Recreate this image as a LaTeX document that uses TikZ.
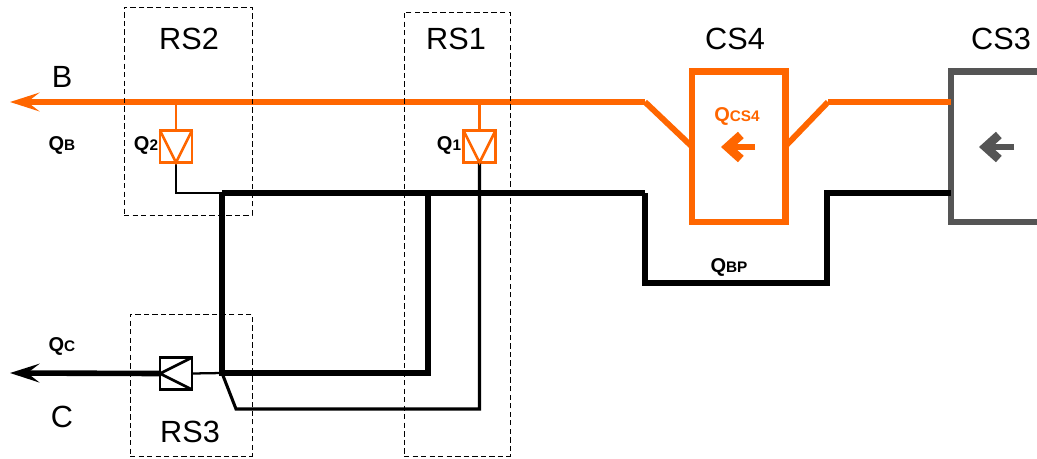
\documentclass[tikz,border=0pt]{standalone}
\usepackage{fontspec}
\setmainfont{Liberation Sans}
\usetikzlibrary{arrows.meta}
\definecolor{flowOrange}{HTML}{FF6600}
\definecolor{csGray}{HTML}{555555}
\newcommand{\flowQ}[2]{{\fontsize{15}{16}\selectfont Q}{\fontsize{11.5}{16}\selectfont #2}}
\tikzset{
    rsbox/.style={draw, dashed, dash pattern=on 4pt off 2.4pt, line width=0.7pt, inner sep=0, outer sep=0},
    csbox/.style={draw, fill=white, line width=5pt, inner sep=0, outer sep=0, minimum width=70pt, minimum height=113pt},
    valvebox/.style={draw, line width=2pt, inner sep=0, outer sep=0, minimum size=24pt},
    bigtext/.style={font=\fontsize{23}{26}\selectfont, inner sep=0},
    qtext/.style={font=\bfseries, inner sep=0},
    mainline/.style={line width=4.4pt},
    thinline/.style={line width=1.7pt},
    flowtip/.style={line width=4.2pt, -{Stealth[length=22pt, width=14pt, inset=9pt]}},
    dirarrow/.style={line width=5.2pt, -{Straight Barb[length=10pt, width=18pt, line width=6.5pt]}}
}
\begin{document}
\begin{tikzpicture}[x=0.75pt, y=-0.75pt]
\useasboundingbox (0,0) rectangle (1037,458);

\node[csbox, draw=flowOrange] (cs4) at (738.5,146.5) {};
\node[csbox, draw=csGray, minimum width=150pt] (cs3) at (1051,146.5) {};

\coordinate (bTip) at (10,102);
\coordinate (bEnd) at (645,102);
\coordinate (cs4Out) at (828,102);
\coordinate (cs3In) at (cs3.west |- cs4Out);
\coordinate (cTip) at (10,373);
\coordinate (hubNW) at (222,193);
\coordinate (hubSW) at (222,373);
\coordinate (hubSE) at (428,373);
\coordinate (hubNE) at (428,193);
\coordinate (bpNW) at (645,193);
\coordinate (bpSW) at (645,283);
\coordinate (bpSE) at (827,283);
\coordinate (bpNE) at (827,193);
\coordinate (cs3Ret) at (cs3.west |- bpNE);

\node[valvebox, draw=flowOrange] (valve2) at (176,146.5) {};
\node[valvebox, draw=flowOrange] (valve1) at (479.5,146.5) {};
\node[valvebox] (valve3) at (176,373.5) {};

\coordinate (q2Top) at (valve2.north |- bEnd);
\coordinate (q1Top) at (valve1.north |- bEnd);
\coordinate (q2Bend) at (valve2.south |- hubNW);
\coordinate (q1Bend) at (valve1.south |- 0,409);
\coordinate (q1Foot) at (236,409);

\draw[mainline] (hubNW) -- (bpNW);
\draw[mainline] (bpNW) -- (bpSW) -- (bpSE) -- (bpNE) -- (cs3Ret);
\draw[mainline, line width=5pt] (hubNW) -- (hubSW) -- (hubSE) -- (hubNE);
\draw[thinline] (valve2.south) -- (q2Bend) -- (hubNW);
\draw[thinline, line width=2.3pt] (valve1.south) -- (q1Bend) -- (q1Foot) -- (hubSW);
\draw[thinline] (valve3.east) -- (hubSW);
\draw[flowtip] (valve3.west) -- (cTip);

\draw[flowtip, flowOrange] (bEnd) -- (bTip);
\draw[mainline, flowOrange] (bEnd) -- (cs4.west);
\draw[mainline, flowOrange] (cs4.east) -- (cs4Out);
\draw[mainline, flowOrange] (cs4Out) -- (cs3In);
\draw[thinline, flowOrange] (q2Top) -- (valve2.north);
\draw[thinline, flowOrange] (q1Top) -- (valve1.north);

\draw[thinline, line width=2pt, flowOrange] (valve2.north west) -- (valve2.south) -- (valve2.north east);
\draw[thinline, line width=2pt, flowOrange] (valve1.north west) -- (valve1.south) -- (valve1.north east);
\draw[thinline, line width=2pt] (valve3.north east) -- (valve3.west) -- (valve3.south east);

\coordinate (cs4ArrowA) at (755,147);
\coordinate (cs4ArrowB) at (721,147);
\coordinate (cs3ArrowA) at (1014,147);
\coordinate (cs3ArrowB) at (979,147);
\draw[dirarrow, flowOrange] (cs4ArrowA) -- (cs4ArrowB);
\draw[dirarrow, csGray] (cs3ArrowA) -- (cs3ArrowB);

\node[rsbox, minimum width=96pt, minimum height=156pt] (rs2) at (188,111) {};
\node[rsbox, minimum width=79.5pt, minimum height=333pt] (rs1) at (457,234) {};
\node[rsbox, minimum width=91.5pt, minimum height=106.5pt] (rs3) at (191,385) {};

\node[bigtext] (rs2Label) at (189,39) {RS2};
\node[bigtext] (rs1Label) at (456,39) {RS1};
\node[bigtext] (rs3Label) at (190,432) {RS3};
\node[bigtext] (cs4Label) at (735,39) {CS4};
\node[bigtext] (cs3Label) at (1001,39) {CS3};
\node[bigtext] (bLabel) at (62,77) {B};
\node[bigtext] (cLabel) at (62,417) {C};

\node[qtext] (qbLabel) at (62,145) {\flowQ{Q}{B}};
\node[qtext] (q2Label) at (146,145) {\flowQ{Q}{2}};
\node[qtext] (q1Label) at (449,145) {\flowQ{Q}{1}};
\node[qtext] (qcLabel) at (62,346) {\flowQ{Q}{C}};
\node[qtext] (qbpLabel) at (729,267) {\flowQ{Q}{BP}};
\node[qtext, text=flowOrange] (qcs4Label) at (737,116) {\flowQ{Q}{CS4}};
\end{tikzpicture}
\end{document}
